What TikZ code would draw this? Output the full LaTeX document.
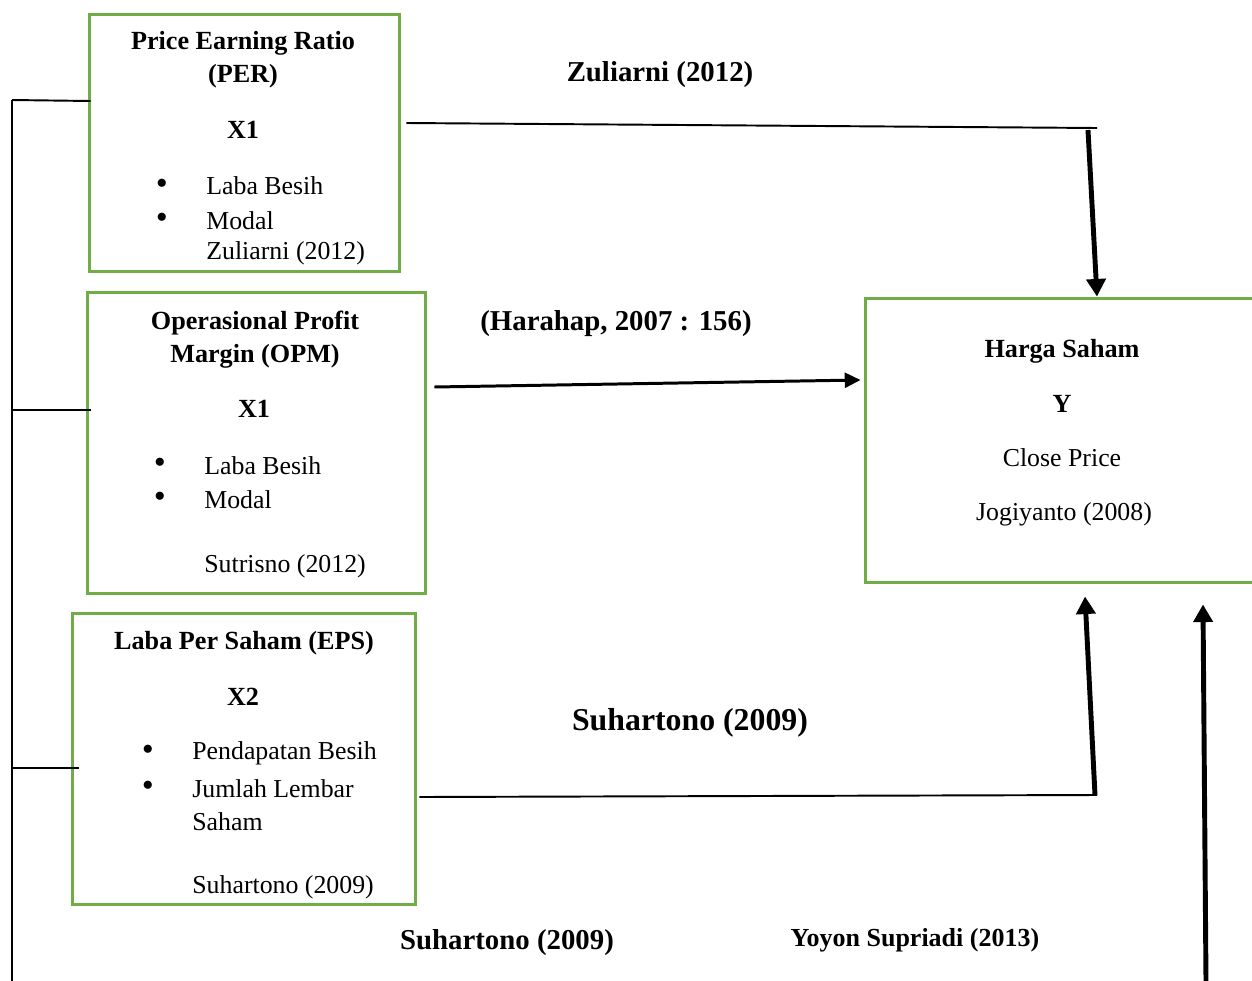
\documentclass[tikz,border=0pt]{standalone}
\usepackage{fontspec}
\setmainfont{Liberation Serif}
\usepackage{tikz}
\usetikzlibrary{arrows.meta}

\definecolor{boxgreen}{RGB}{112,173,71}

\tikzset{
    box/.style={draw=boxgreen, line width=1.7pt, inner sep=0pt},
    head/.style={font=\fontsize{14.9}{17}\selectfont\bfseries},
    body/.style={font=\fontsize{14.7}{17}\selectfont, anchor=west, inner sep=0pt},
    dot/.style={font=\fontsize{13}{15}\selectfont, inner sep=0pt},
    ref/.style={font=\fontsize{16.4}{19}\selectfont\bfseries},
    link/.style={line width=1.1pt},
    bigarrow/.style={line width=2.8pt, -{Triangle[length=10pt,width=10.8pt]}},
    midarrow/.style={line width=1.7pt, -{Triangle[length=9pt,width=8.5pt]}}
}

\begin{document}
\begin{tikzpicture}[x=0.02cm, y=-0.02cm]

    \useasboundingbox (0,0) rectangle (1252,981);

    % Kotak variabel X
    \node[box, minimum width=6.22cm, minimum height=5.16cm] (per) at (244.5,143) {};
    \node[box, minimum width=6.78cm, minimum height=6.04cm] (opm) at (256.5,443) {};
    \node[box, minimum width=6.88cm, minimum height=5.84cm] (eps) at (244,759) {};

    % Kotak variabel Y (sisi kanan terpotong)
    \node[box, minimum width=7.82cm, minimum height=5.70cm] (harga) at (1060.5,440.5) {};

    % Isi kotak PER
    \node[head] (perA) at (243,43) {Price Earning Ratio};
    \node[head] (perB) at (243,76) {(PER)};
    \node[head] (perC) at (243,130) {X1};
    \node[dot] (perD) at (162,184) {$\bullet$};
    \node[body] (perE) at (206,186) {Laba Besih};
    \node[dot] (perF) at (162,218) {$\bullet$};
    \node[body] (perG) at (206,221) {Modal};
    \node[body] (perH) at (206,253) {Zuliarni (2012)};

    % Isi kotak OPM
    \node[head] (opmA) at (255,323) {Operasional Profit};
    \node[head] (opmB) at (255,356) {Margin (OPM)};
    \node[head] (opmC) at (254,409) {X1};
    \node[dot] (opmD) at (160,463) {$\bullet$};
    \node[body] (opmE) at (204,466) {Laba Besih};
    \node[dot] (opmF) at (160,497) {$\bullet$};
    \node[body] (opmG) at (204,500) {Modal};
    \node[body] (opmH) at (204,566) {Sutrisno (2012)};

    % Isi kotak EPS
    \node[head] (epsA) at (244,643) {Laba Per Saham (EPS)};
    \node[head] (epsB) at (243,697) {X2};
    \node[dot] (epsC) at (148,750) {$\bullet$};
    \node[body] (epsD) at (192,753) {Pendapatan Besih};
    \node[dot] (epsE) at (148,786) {$\bullet$};
    \node[body] (epsF) at (192,789) {Jumlah Lembar};
    \node[body] (epsG) at (192,822) {Saham};
    \node[body] (epsH) at (192,887) {Suhartono (2009)};

    % Isi kotak harga saham
    \node[head] (hrgA) at (1062,351) {Harga Saham};
    \node[head] (hrgB) at (1062,404) {Y};
    \node[body, anchor=center] (hrgC) at (1062,458) {Close Price};
    \node[body, anchor=center] (hrgD) at (1064,514) {Jogiyanto (2008)};

    % Rujukan
    \node[ref] (refA) at (660,75) {Zuliarni (2012)};
    \node[ref] (refB) at (616,324) {(Harahap, 2007 : 156)};
    \node[ref, font=\fontsize{18.1}{21}\selectfont\bfseries] (refC) at (690,723) {Suhartono (2009)};
    \node[ref] (refD) at (507,943) {Suhartono (2009)};
    \node[ref, font=\fontsize{14.8}{17}\selectfont\bfseries] (refE) at (915,940) {Yoyon Supriadi (2013)};

    % Titik belok
    \coordinate (z1) at (1097,128);
    \coordinate (z2) at (1088,130);
    \coordinate (s1) at (1097,795);
    \coordinate (s2) at (1095,795);
    \coordinate (y1) at (1206,981);
    \coordinate (k1) at (12,100);
    \coordinate (k2) at (12,122);
    \coordinate (k3) at (12,805);
    \coordinate (k4) at (12,981);

    % PER -> harga saham
    \draw[link] ([shift={(5,-20)}]per.east) -- (z1);
    \draw[bigarrow] (z2) -- ([shift={(36.5,0)}]harga.north);

    % OPM -> harga saham
    \draw[midarrow] ([shift={(7,-56)}]opm.east) -- ([shift={(-3,-60.5)}]harga.west);

    % EPS -> harga saham
    \draw[link] ([shift={(2,38)}]eps.east) -- (s1);
    \draw[bigarrow] (s2) -- ([shift={(24.5,12)}]harga.south);

    % Simultan -> harga saham
    \draw[bigarrow] (y1) -- ([shift={(142.5,20)}]harga.south);

    % Garis kiri
    \draw[link] (k1) -- (k2);
    \draw[line width=1.7pt] (k2) -- (k3);
    \draw[line width=0.9pt] (k3) -- (k4);
    \draw[link] (k1) -- ([shift={(3,-42)}]per.west);
    \draw[link] (12,410) -- ([shift={(5,-33)}]opm.west);
    \draw[link] (12,768) -- ([shift={(8,9)}]eps.west);

\end{tikzpicture}
\end{document}
